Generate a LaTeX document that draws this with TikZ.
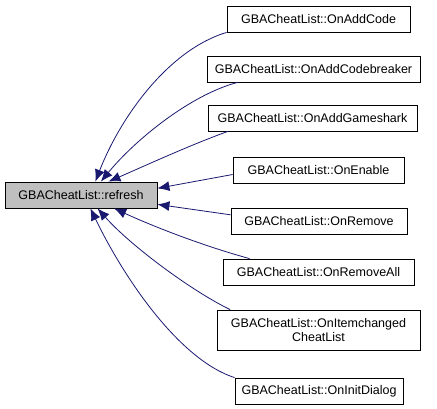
\documentclass[tikz,border=0pt]{standalone}
\usepackage{fontspec}
\setmainfont{Liberation Sans}
\usetikzlibrary{arrows.meta}

\begin{document}
\begin{tikzpicture}[
    x=1pt, y=-1pt,
    fn/.style={draw=black,thick,fill=white,inner sep=0pt,minimum height=26,font=\fontsize{12.5}{14}\selectfont},
    cur/.style={fn,fill=black!25},
    call/.style={draw={rgb,255:red,25;green,25;blue,112},line width=0.8pt,-{Latex[length=12pt,width=10pt]}}
]
\useasboundingbox (0,0) rectangle (437,408);

\node[cur,minimum width=152] (refresh) at (81,195) {GBACheatList::refresh};

\node[fn,minimum width=183] (addcode) at (318.5,19) {GBACheatList::OnAddCode};
\node[fn,minimum width=213] (codebreaker) at (313.5,69) {GBACheatList::OnAddCodebreaker};
\node[fn,minimum width=209] (gameshark) at (312.5,118) {GBACheatList::OnAddGameshark};
\node[fn,minimum width=171] (enable) at (318.5,170) {GBACheatList::OnEnable};
\node[fn,minimum width=176] (remove) at (319,221) {GBACheatList::OnRemove};
\node[fn,minimum width=191] (removeall) at (318.5,272) {GBACheatList::OnRemoveAll};
\node[fn,minimum width=203,minimum height=40,align=center] (itemchanged) at (318.5,330) {GBACheatList::OnItemchanged\\CheatList};
\node[fn,minimum width=168] (initdialog) at (319,391) {GBACheatList::OnInitDialog};

\draw[call] (addcode.south west) .. controls (168,50) and (120,118) .. (refresh.43);
\draw[call] (codebreaker.190) .. controls (190,95) and (135,140) .. (refresh.34);
\draw[call] (gameshark.189) .. controls (190,145) and (140,168) .. (refresh.26);
\draw[call] (enable.183) -- (refresh.5);
\draw[call] (remove.176) -- (refresh.-7);
\draw[call] (removeall.169) .. controls (200,245) and (150,225) .. (refresh.-22);
\draw[call] (itemchanged.167) .. controls (190,290) and (130,245) .. (refresh.-39);
\draw[call] (initdialog.north west) .. controls (180,360) and (125,280) .. (refresh.-55);

\end{tikzpicture}
\end{document}
